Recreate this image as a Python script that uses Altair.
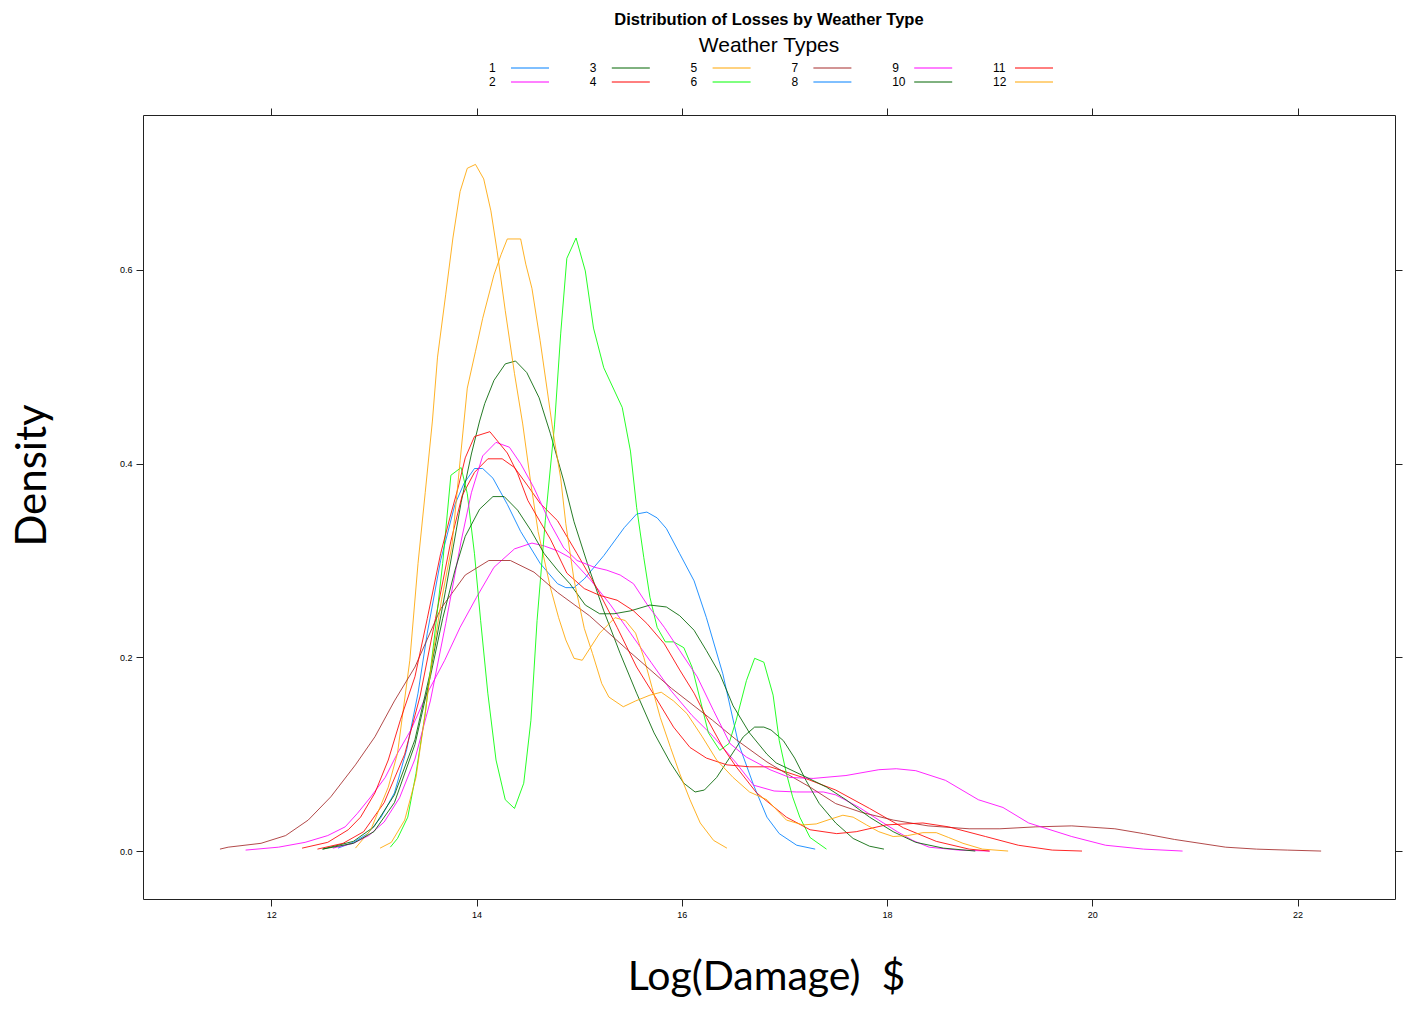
import altair as alt
import pandas as pd

# ---- density curves (x = log damage, y = density) ----
x1 = [12.65, 12.8, 12.94, 13.07, 13.2, 13.32, 13.43, 13.52, 13.65, 13.79, 13.88, 13.98, 14.06, 14.16, 14.3, 14.43, 14.62, 14.79, 14.87, 14.95, 15.05, 15.24, 15.44, 15.56, 15.66, 15.76, 15.85, 15.98, 16.12, 16.24, 16.4, 16.55, 16.7, 16.83, 16.95, 17.12, 17.3]
y1 = [0.003, 0.009, 0.018, 0.035, 0.06, 0.105, 0.163, 0.225, 0.3, 0.358, 0.38, 0.395, 0.395, 0.385, 0.358, 0.33, 0.297, 0.276, 0.272, 0.272, 0.281, 0.305, 0.334, 0.348, 0.35, 0.344, 0.333, 0.307, 0.279, 0.241, 0.183, 0.112, 0.068, 0.035, 0.018, 0.006, 0.002]

x2 = [11.75, 12.07, 12.33, 12.55, 12.72, 12.84, 12.97, 13.11, 13.23, 13.36, 13.52, 13.69, 13.84, 14.0, 14.17, 14.37, 14.54, 14.66, 14.79, 14.91, 15.11, 15.3, 15.5, 15.7, 15.9, 16.1, 16.31, 16.53, 16.7, 16.9, 17.12, 17.38, 17.5, 17.73, 17.92, 18.1, 18.25, 18.41, 18.7, 19.0]
y2 = [0.001, 0.004, 0.009, 0.016, 0.025, 0.039, 0.056, 0.076, 0.101, 0.125, 0.163, 0.197, 0.231, 0.262, 0.293, 0.312, 0.318, 0.315, 0.31, 0.303, 0.28, 0.255, 0.225, 0.195, 0.165, 0.14, 0.118, 0.091, 0.068, 0.062, 0.061, 0.061, 0.058, 0.045, 0.032, 0.02, 0.011, 0.004, 0.001, 0.0]

x3 = [12.5, 12.8, 13.0, 13.2, 13.4, 13.55, 13.7, 13.85, 13.95, 14.03, 14.08, 14.17, 14.28, 14.38, 14.49, 14.61, 14.72, 14.85, 14.95, 15.08, 15.24, 15.4, 15.56, 15.73, 15.89, 16.02, 16.13, 16.22, 16.34, 16.47, 16.6, 16.71, 16.8, 16.87, 16.99, 17.1, 17.21, 17.34, 17.5, 17.67, 17.83, 17.97]
y3 = [0.002, 0.01, 0.025, 0.058, 0.115, 0.185, 0.27, 0.36, 0.41, 0.444, 0.462, 0.486, 0.503, 0.506, 0.494, 0.468, 0.431, 0.382, 0.34, 0.297, 0.248, 0.204, 0.163, 0.122, 0.091, 0.07, 0.061, 0.063, 0.076, 0.097, 0.118, 0.128, 0.128, 0.125, 0.114, 0.096, 0.073, 0.049, 0.029, 0.013, 0.005, 0.002]

x4 = [12.45, 12.7, 12.9, 13.1, 13.3, 13.45, 13.6, 13.75, 13.86, 13.98, 14.11, 14.25, 14.37, 14.5, 14.62, 14.79, 14.98, 15.17, 15.37, 15.56, 15.76, 15.92, 16.08, 16.24, 16.44, 16.66, 16.86, 17.18, 17.5, 17.83, 18.16, 18.48, 18.8, 19.0]
y4 = [0.002, 0.008, 0.02, 0.05, 0.1, 0.16, 0.24, 0.32, 0.367, 0.391, 0.405, 0.405, 0.396, 0.377, 0.359, 0.341, 0.307, 0.272, 0.231, 0.19, 0.156, 0.128, 0.107, 0.096, 0.089, 0.087, 0.087, 0.076, 0.063, 0.044, 0.024, 0.01, 0.002, 0.0]

x5 = [12.82, 12.97, 13.14, 13.23, 13.35, 13.43, 13.5, 13.57, 13.62, 13.7, 13.77, 13.84, 13.91, 13.99, 14.07, 14.14, 14.2, 14.28, 14.37, 14.45, 14.53, 14.6, 14.72, 14.8, 14.87, 14.95, 15.03, 15.2, 15.35, 15.45, 15.55, 15.63, 15.71, 15.79, 15.89, 15.98, 16.08, 16.18, 16.31, 16.44]
y5 = [0.003, 0.022, 0.066, 0.101, 0.197, 0.297, 0.37, 0.444, 0.51, 0.575, 0.633, 0.681, 0.705, 0.709, 0.694, 0.661, 0.62, 0.558, 0.493, 0.441, 0.379, 0.33, 0.272, 0.241, 0.218, 0.199, 0.197, 0.225, 0.241, 0.238, 0.225, 0.2, 0.169, 0.138, 0.107, 0.08, 0.053, 0.029, 0.011, 0.003]

x6 = [13.16, 13.23, 13.33, 13.41, 13.5, 13.59, 13.67, 13.75, 13.85, 13.91, 13.98, 14.04, 14.11, 14.19, 14.28, 14.37, 14.46, 14.53, 14.59, 14.67, 14.76, 14.82, 14.88, 14.97, 15.06, 15.14, 15.24, 15.42, 15.5, 15.56, 15.63, 15.69, 15.76, 15.84, 15.92, 16.02, 16.1, 16.18, 16.26, 16.37, 16.46, 16.53, 16.63, 16.71, 16.8, 16.89, 16.95, 17.02, 17.08, 17.15, 17.25, 17.41]
y6 = [0.004, 0.013, 0.035, 0.08, 0.142, 0.221, 0.297, 0.388, 0.396, 0.369, 0.307, 0.238, 0.163, 0.094, 0.053, 0.044, 0.07, 0.135, 0.238, 0.341, 0.44, 0.534, 0.612, 0.633, 0.599, 0.54, 0.499, 0.458, 0.413, 0.355, 0.303, 0.262, 0.231, 0.216, 0.216, 0.21, 0.19, 0.156, 0.122, 0.104, 0.111, 0.135, 0.176, 0.199, 0.195, 0.161, 0.114, 0.08, 0.056, 0.035, 0.014, 0.002]

x7 = [11.5, 11.58, 11.9, 12.14, 12.36, 12.58, 12.82, 13.01, 13.2, 13.4, 13.65, 13.89, 14.12, 14.33, 14.56, 14.79, 15.1, 15.5, 15.9, 16.3, 16.53, 16.83, 17.02, 17.25, 17.5, 17.75, 18.06, 18.4, 18.8, 19.1, 19.45, 19.8, 20.22, 20.5, 20.8, 21.05, 21.3, 21.6, 21.9, 22.23]
y7 = [0.002, 0.004, 0.008, 0.016, 0.032, 0.056, 0.089, 0.118, 0.155, 0.19, 0.25, 0.285, 0.3, 0.3, 0.288, 0.267, 0.243, 0.205, 0.168, 0.135, 0.115, 0.092, 0.08, 0.066, 0.049, 0.04, 0.032, 0.026, 0.023, 0.023, 0.025, 0.026, 0.023, 0.018, 0.012, 0.008, 0.004, 0.002, 0.001, 0.0]

x9 = [12.6, 12.8, 12.95, 13.1, 13.25, 13.4, 13.55, 13.7, 13.85, 13.95, 14.06, 14.19, 14.32, 14.43, 14.56, 14.72, 14.85, 14.98, 15.15, 15.27, 15.4, 15.53, 15.66, 15.83, 15.98, 16.15, 16.31, 16.47, 16.63, 16.86, 17.05, 17.28, 17.6, 17.92, 18.09, 18.28, 18.57, 18.89, 19.13, 19.38, 19.8, 20.13, 20.5, 20.88]
y9 = [0.003, 0.008, 0.016, 0.03, 0.055, 0.095, 0.155, 0.235, 0.32, 0.37, 0.408, 0.422, 0.417, 0.4, 0.375, 0.338, 0.313, 0.3, 0.293, 0.29, 0.285, 0.276, 0.255, 0.231, 0.207, 0.18, 0.145, 0.111, 0.097, 0.084, 0.076, 0.075, 0.078, 0.084, 0.085, 0.083, 0.073, 0.053, 0.045, 0.029, 0.015, 0.006, 0.002, 0.0]

x10 = [12.5, 12.8, 13.0, 13.2, 13.4, 13.55, 13.67, 13.79, 13.89, 14.03, 14.16, 14.27, 14.4, 14.53, 14.66, 14.79, 14.91, 15.06, 15.2, 15.34, 15.5, 15.69, 15.85, 15.98, 16.12, 16.24, 16.37, 16.5, 16.66, 16.83, 16.92, 17.18, 17.41, 17.6, 17.83, 18.06, 18.28, 18.55, 18.86]
y10 = [0.002, 0.008, 0.02, 0.05, 0.11, 0.18, 0.24, 0.29, 0.325, 0.353, 0.366, 0.366, 0.352, 0.331, 0.307, 0.29, 0.276, 0.254, 0.245, 0.245, 0.248, 0.254, 0.252, 0.243, 0.228, 0.207, 0.183, 0.15, 0.122, 0.1, 0.091, 0.078, 0.066, 0.053, 0.035, 0.02, 0.009, 0.003, 0.0]

x11 = [12.3, 12.55, 12.75, 12.87, 13.01, 13.14, 13.26, 13.4, 13.52, 13.65, 13.74, 13.82, 13.89, 13.98, 14.13, 14.3, 14.4, 14.5, 14.62, 14.72, 14.88, 15.05, 15.2, 15.37, 15.53, 15.66, 15.83, 15.98, 16.12, 16.24, 16.4, 16.53, 16.73, 17.02, 17.25, 17.51, 17.7, 17.99, 18.35, 18.6, 18.96, 19.28, 19.61, 19.9]
y11 = [0.003, 0.009, 0.022, 0.035, 0.06, 0.094, 0.136, 0.18, 0.24, 0.307, 0.344, 0.375, 0.406, 0.428, 0.433, 0.411, 0.39, 0.362, 0.34, 0.322, 0.287, 0.271, 0.264, 0.259, 0.248, 0.235, 0.214, 0.187, 0.163, 0.138, 0.107, 0.087, 0.06, 0.035, 0.022, 0.018, 0.02, 0.027, 0.029, 0.025, 0.015, 0.006, 0.001, 0.0]

x12 = [13.06, 13.17, 13.3, 13.41, 13.5, 13.57, 13.66, 13.76, 13.84, 13.91, 13.99, 14.06, 14.17, 14.24, 14.3, 14.43, 14.48, 14.54, 14.62, 14.69, 14.75, 14.82, 14.87, 14.95, 15.05, 15.13, 15.22, 15.29, 15.43, 15.55, 15.69, 15.8, 15.92, 16.05, 16.2, 16.34, 16.5, 16.66, 16.83, 17.02, 17.18, 17.31, 17.45, 17.57, 17.67, 17.8, 17.92, 18.06, 18.2, 18.35, 18.48, 18.6, 18.74, 18.93, 19.18]
y12 = [0.003, 0.009, 0.032, 0.076, 0.142, 0.2, 0.26, 0.315, 0.403, 0.478, 0.516, 0.55, 0.595, 0.616, 0.632, 0.632, 0.606, 0.581, 0.527, 0.475, 0.43, 0.385, 0.338, 0.28, 0.23, 0.204, 0.173, 0.159, 0.149, 0.155, 0.161, 0.164, 0.155, 0.142, 0.118, 0.094, 0.076, 0.061, 0.053, 0.032, 0.027, 0.028, 0.033, 0.037, 0.035, 0.027, 0.02, 0.015, 0.016, 0.019, 0.019, 0.014, 0.008, 0.002, 0.0]

series = {
    "1": (x1, y1), "2": (x2, y2), "3": (x3, y3), "4": (x4, y4),
    "5": (x5, y5), "6": (x6, y6), "7": (x7, y7), "9": (x9, y9),
    "10": (x10, y10), "11": (x11, y11), "12": (x12, y12),
}

types = ["1", "2", "3", "4", "5", "6", "7", "8", "9", "10", "11", "12"]
colors = ["#0080FF", "#FF00FF", "#006400", "#FF0000", "#FFA500", "#00FF00", "#A52A2A",
          "#0080FF", "#FF00FF", "#006400", "#FF0000", "#FFA500"]

x_ticks = [12, 14, 16, 18, 20, 22]
y_ticks = [0.0, 0.2, 0.4, 0.6]

rows = []
for t, (xs_, ys_) in series.items():
    for xv, yv in zip(xs_, ys_):
        rows.append({"type": t, "x": xv, "y": yv})
df = pd.DataFrame(rows)

leg = pd.DataFrame({
    "type": types,
    "col": [i // 2 for i in range(len(types))],
    "row": [i % 2 for i in range(len(types))],
})

color = alt.Color("type:N", scale=alt.Scale(domain=types, range=colors), legend=None)
xs = alt.Scale(domain=[10.75, 22.95], nice=False, zero=False)
ys = alt.Scale(domain=[-0.0495, 0.76], nice=False, zero=False)

lines = alt.Chart(df).mark_line(strokeWidth=1, opacity=0.85, clip=True).encode(
    x=alt.X("x:Q", scale=xs, axis=alt.Axis(
        values=x_ticks, title="Log(Damage) \u00a0$", orient="bottom",
        titleFont="Lato", titleFontSize=41, titleFontWeight="normal",
        titlePadding=38, titleX=623)),
    y=alt.Y("y:Q", scale=ys, axis=alt.Axis(
        values=y_ticks, format=".1f", title="Density", orient="left",
        titleFont="Lato", titleFontSize=42, titleFontWeight="normal",
        titlePadding=65, titleY=360)),
    color=color,
    detail="type:N",
    order="x:Q",
)

frame_axes = alt.Chart(df).mark_line(opacity=0).encode(
    x=alt.X("x:Q", scale=xs, axis=alt.Axis(values=x_ticks, orient="top", labels=False, title=None)),
    y=alt.Y("y:Q", scale=ys, axis=alt.Axis(values=y_ticks, orient="right", labels=False, title=None)),
    detail="type:N",
)

main = alt.layer(lines, frame_axes).resolve_axis(x="independent", y="independent")

lx = alt.Scale(domain=[0, 5], range=[346, 850])
ly = alt.Scale(domain=[0, 1], range=[-47, -33])

leg_text = alt.Chart(leg).mark_text(align="left", baseline="middle", fontSize=12,
                                    font="Liberation Sans", color="black").encode(
    x=alt.X("col:Q", scale=lx, axis=None),
    y=alt.Y("row:Q", scale=ly, axis=None),
    text="type:N",
)
leg_lines = alt.Chart(leg).mark_rule(strokeWidth=1, xOffset=22, x2Offset=60).encode(
    x=alt.X("col:Q", scale=lx, axis=None),
    x2="col:Q",
    y=alt.Y("row:Q", scale=ly, axis=None),
    color=color,
)

chart = alt.layer(main, leg_lines, leg_text).resolve_scale(
    x="independent", y="independent"
).properties(
    width=1252, height=784,
    padding={"left": 3, "top": 3, "right": 0, "bottom": 0},
    title=alt.TitleParams(
        "Distribution of Losses by Weather Type",
        subtitle="Weather Types",
        font="Liberation Sans", fontSize=16.5, fontWeight="bold", color="black",
        subtitleFont="Liberation Sans", subtitleFontSize=21, subtitleColor="black",
        subtitlePadding=7, anchor="middle", frame="group", offset=6,
    ),
).configure_view(
    stroke="#222222", strokeWidth=1
).configure_axis(
    domain=False, grid=False, ticks=True, tickColor="#222222", tickSize=7,
    labelFont="Liberation Sans", labelFontSize=9, labelColor="black", labelPadding=4,
    titleColor="black",
)

chart.save("out.html", embed_options={"renderer": "svg", "actions": False})
